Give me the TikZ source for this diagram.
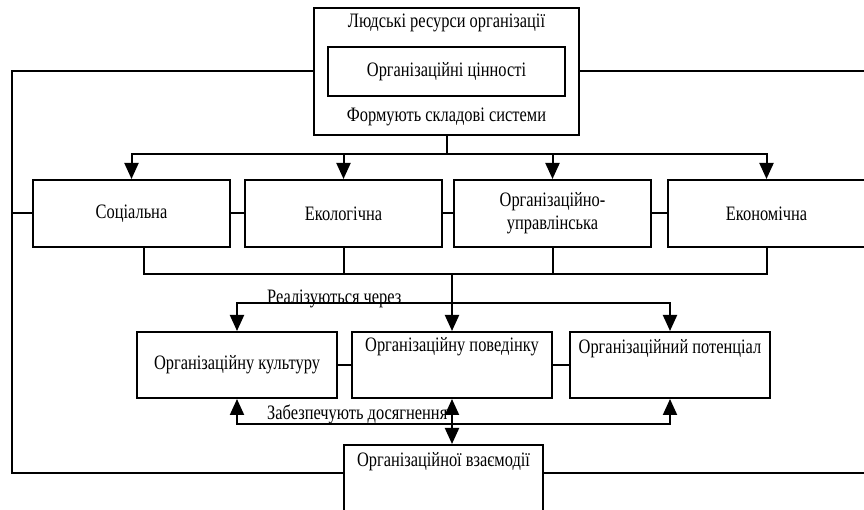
\documentclass[tikz,border=0pt]{standalone}
\usepackage{fontspec}
\setmainfont{Liberation Serif}[FakeStretch=0.8]
\usepackage{tikz}
\usetikzlibrary{positioning,arrows.meta}
\newcommand{\diagfont}{\fontsize{20.5}{23}\selectfont}
\tikzset{
    box/.style={draw, line width=2pt, align=center, font=\diagfont},
    hrbox/.style={box, minimum width=265pt, minimum height=127pt},
    valbox/.style={box, minimum width=237pt, minimum height=49pt},
    sysbox/.style={box, minimum width=197pt, minimum height=67pt},
    waybox/.style={box, minimum width=200pt, minimum height=66pt},
    txt/.style={font=\diagfont, inner sep=2pt},
    link/.style={line width=2pt}
}

\begin{document}
\begin{tikzpicture}[
    x=1pt, y=1pt,
    >={Triangle[length=16pt,width=14pt]}
]
\useasboundingbox (0,0) rectangle (864,510);
\clip (0,0) rectangle (864,510);

% ===============================================================
% ==== Human resources ====
% ===============================================================
\node[hrbox] (hr) at (446.5,438.5) {};
\node[valbox] (values) at (hr.center) {Організаційні цінності};
\node[txt, below=5pt of hr.north] (hrtop) {Людські ресурси організації};
\node[txt, above=8pt of hr.south] (hrbot) {Формують складові системи};

% ===============================================================
% ==== System components ====
% ===============================================================
\node[sysbox] (soc) at (131.5,296.5) {Соціальна};
\node[sysbox, right=13pt of soc] (eco) {Екологічна};
\node[sysbox, right=10pt of eco] (orgm) {Організаційно-\\управлінська};
\node[sysbox, right=15pt of orgm] (econ) {Економічна};

% ===============================================================
% ==== Realisation ====
% ===============================================================
\node[waybox] (cult) at (237,145) {Організаційну культуру};
\node[waybox, right=13pt of cult] (beh) {};
\node[txt, below=4pt of beh.north] (behtxt) {Організаційну поведінку};
\node[waybox, right=16pt of beh] (pot) {};
\node[txt, below=6pt of pot.north] (pottxt) {Організаційний потенціал};

\node[box, minimum width=199pt, minimum height=90pt] (inter) at (443.5,20) {};
\node[txt, below=6pt of inter.north] (intertxt) {Організаційної взаємодії};

% bus coordinates
\coordinate (bus1) at ([yshift=-18pt]hr.south);
\coordinate (bus2) at ([yshift=-26pt]soc.south);
\coordinate (bus3) at ([yshift=28pt]cult.north);
\coordinate (bus4) at ([yshift=-25pt]cult.south);
\coordinate (loopsw) at (12,37);
\coordinate (loopse) at (866,37);

% labels on the buses
\node[txt, anchor=base west, inner sep=0pt] (realize) at ([xshift=30pt,yshift=-1pt]bus3) {Реалізуються через};
\node[txt, anchor=base west, inner sep=0pt] (ensure) at ([xshift=30pt,yshift=4pt]bus4) {Забезпечують досягнення};

% ===== human resources -> components =====
\draw[link] (hr.south) -- (bus1);
\draw[link, ->] (bus1) -| (soc.north);
\draw[link, ->] (bus1) -| (eco.north);
\draw[link, ->] (bus1) -| (orgm.north);
\draw[link, ->] (bus1) -| (econ.north);

% row links
\draw[link] (soc.east) -- (eco.west);
\draw[link] (eco.east) -- (orgm.west);
\draw[link] (orgm.east) -- (econ.west);
\draw[link] (cult.east) -- (beh.west);
\draw[link] (beh.east) -- (pot.west);

% ===== components -> realisation =====
\draw[link] ([xshift=12pt]soc.south) |- (bus2 -| econ.south) -- (econ.south);
\draw[link] (eco.south) -- (eco.south |- bus2);
\draw[link] (orgm.south) -- (orgm.south |- bus2);
\draw[link, ->] (bus2 -| beh.north) -- (beh.north);
\draw[link, <->] (cult.north) |- (pot.north |- bus3) -- (pot.north);

% ===== realisation -> interaction =====
\draw[link, <->] (cult.south) |- (pot.south |- bus4) -- (pot.south);
\draw[link, <->] (beh.south) -- (beh.south |- inter.north);

% outer loop
\draw[link] (hr.west) -| (loopsw) -- (inter.west |- loopsw);
\draw[link] (hr.east) -| (loopse) -- (inter.east |- loopse);
\draw[link] (soc.west) -- (soc.west -| loopsw);
\draw[link] (econ.east) -- (econ.east -| loopse);

\end{tikzpicture}
\end{document}
